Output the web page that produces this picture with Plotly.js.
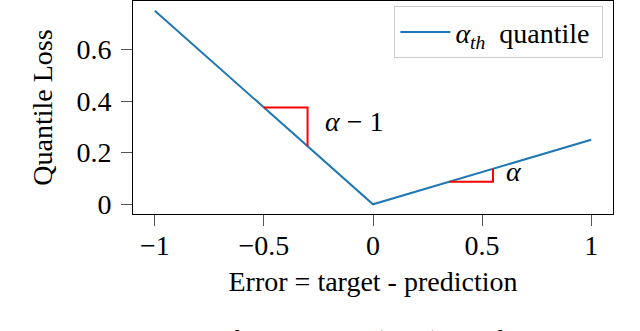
<!DOCTYPE html>
<html>
<head>
<meta charset="utf-8">
<script src="https://cdn.plot.ly/plotly-3.0.1.min.js"></script>
<style>html,body{margin:0;padding:0;background:#fff;}#chart{width:640px;height:331px;}</style>
</head>
<body>
<div id="chart"></div>
<script>
// Data
const errX = [-1, 0, 1];
const loss = [0.75, 0, 0.25];
const tri1X = [-0.5, -0.3, -0.3];
const tri1Y = [0.375, 0.375, 0.225];
const tri2X = [0.35, 0.55, 0.55];
const tri2Y = [0.0875, 0.0875, 0.1375];
const xTickVals = [-1, -0.5, 0, 0.5, 1];
const xTickText = ['−1', '−0.5', '0', '0.5', '1'];
const yTickVals = [0, 0.2, 0.4, 0.6];
const yTickText = ['0', '0.2', '0.4', '0.6'];
const seriesName = '<i>α</i><sub><i>th</i></sub>\u00a0 quantile\u00a0';

const FONT = 'Liberation Serif, Times New Roman, serif';

const traces = [
  {x: errX, y: loss, mode: 'lines', name: seriesName,
   line: {color: '#1f77b4', width: 2}},
  {x: tri1X, y: tri1Y, mode: 'lines', showlegend: false,
   line: {color: '#ff0000', width: 2}},
  {x: tri2X, y: tri2Y, mode: 'lines', showlegend: false,
   line: {color: '#ff0000', width: 2}}
];

const layout = {
  width: 640, height: 331,
  margin: {l: 133, r: 27, t: 1, b: 117},
  paper_bgcolor: '#fff', plot_bgcolor: '#fff',
  font: {family: FONT, size: 28, color: '#000'},
  showlegend: true,
  legend: {x: 0.98, xanchor: 'right', y: 0.975, yanchor: 'top',
           bordercolor: '#cccccc', borderwidth: 1, bgcolor: '#fff',
           itemwidth: 50,
           font: {family: FONT, size: 28, color: '#000'}},
  xaxis: {range: [-1.1, 1.1], tickvals: xTickVals, ticktext: xTickText,
          showgrid: false, zeroline: false, showline: true, mirror: true,
          linecolor: '#000', linewidth: 1, ticks: 'outside', ticklen: 11,
          tickcolor: '#555', tickwidth: 1, ticklabelstandoff: -5,
          tickfont: {family: FONT, size: 28, color: '#000'},
          title: {text: 'Error = target - prediction', standoff: 11,
                  font: {family: FONT, size: 28, color: '#000'}}},
  yaxis: {range: [-0.0375, 0.7875], tickvals: yTickVals, ticktext: yTickText,
          showgrid: false, zeroline: false, showline: true, mirror: true,
          linecolor: '#000', linewidth: 1, ticks: 'outside', ticklen: 11,
          tickcolor: '#555', tickwidth: 1, ticklabelstandoff: 4,
          tickfont: {family: FONT, size: 28, color: '#000'},
          title: {text: 'Quantile Loss', standoff: 15,
                  font: {family: FONT, size: 28, color: '#000'}}},
  annotations: [
    {x: -0.23, y: 0.32, xref: 'x', yref: 'y', xanchor: 'left', yanchor: 'middle',
     text: '<i>α</i> − 1', showarrow: false, font: {family: FONT, size: 28, color: '#000'}},
    {x: 0.6, y: 0.128, xref: 'x', yref: 'y', xanchor: 'left', yanchor: 'middle',
     text: '<i>α</i>', showarrow: false, font: {family: FONT, size: 28, color: '#000'}},
    {x: -0.281, y: -0.511, xref: 'paper', yref: 'paper', xanchor: 'left', yanchor: 'top',
     text: 'Fig. 2: Visualization of the quantile (TAL) loss function [14]',
     showarrow: false, font: {family: FONT, size: 26, color: '#000'}}
  ]
};

Plotly.newPlot('chart', traces, layout, {displayModeBar: false, staticPlot: true});
</script>
</body>
</html>
